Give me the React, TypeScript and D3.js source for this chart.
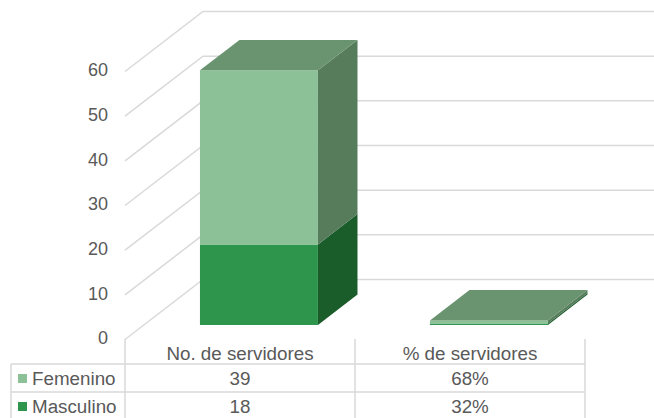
import React, { useEffect, useRef } from 'react';
import * as d3 from 'd3';

const categories = ['No. de servidores', '% de servidores'];
const femenino = [39, 0.68];
const masculino = [18, 0.32];
const femeninoLabels = ['39', '68%'];
const masculinoLabels = ['18', '32%'];
const yTicks = [0, 10, 20, 30, 40, 50, 60];

const width = 654;
const height = 418;

const App = () => {
  const ref = useRef<SVGSVGElement>(null);

  useEffect(() => {
    const svg = d3.select(ref.current);
    svg.selectAll('*').remove();

    const gridColor = '#d9d9d9';
    const textColor = '#595959';
    const font = '"Liberation Sans", Arial, sans-serif';

    const x = d3.scaleBand().domain(categories).range([125, 585]);
    const y = d3.scaleLinear().domain([0, 60]).range([339.5, 71.5]);

    // 3d offset, depth goes from 0 (front) to 1 (back wall)
    const depthX = 78;
    const depthY = -60;
    const px = (xv: number, depth: number) => xv + depthX * depth;
    const py = (yv: number, depth: number) => yv + depthY * depth;
    const line = d3.line();

    // Gridlines on side and back walls
    yTicks.forEach(t => {
      const yy = y(t);
      svg.append('path')
        .attr('d', line([[125, yy], [px(125, 1), py(yy, 1)], [width + 10, py(yy, 1)]]))
        .attr('fill', 'none')
        .attr('stroke', gridColor)
        .attr('stroke-width', 1.5);
    });

    // Y labels
    yTicks.forEach(t => {
      svg.append('text')
        .attr('x', 108)
        .attr('y', y(t) - 1.5)
        .attr('dy', '0.35em')
        .attr('text-anchor', 'end')
        .attr('font-family', font)
        .attr('font-size', 18)
        .attr('fill', textColor)
        .text(t);
    });

    // Stacked 3d columns
    const barWidth = x.bandwidth() * 0.513;
    const front = 0.243;
    const back = 0.75;
    const series = [
      { values: masculino, face: '#2e954c', side: '#1b5c2b', top: '#1f6e36' },
      { values: femenino, face: '#8cc096', side: '#567c5c', top: '#69946f' }
    ];

    categories.forEach((c, i) => {
      const x0 = x(c)! + (x.bandwidth() - barWidth) / 2;
      const x1 = x0 + barWidth;
      let base = 0;
      series.forEach((s, si) => {
        const v0 = y(base);
        const v1 = y(base + s.values[i]);
        const poly = (pts: [number, number][], fill: string) => {
          svg.append('path').attr('d', line(pts) + 'Z').attr('fill', fill);
        };
        // side
        poly([
          [px(x1, front), py(v0, front)],
          [px(x1, back), py(v0, back)],
          [px(x1, back), py(v1, back)],
          [px(x1, front), py(v1, front)]
        ], s.side);
        // face
        poly([
          [px(x0, front), py(v0, front)],
          [px(x1, front), py(v0, front)],
          [px(x1, front), py(v1, front)],
          [px(x0, front), py(v1, front)]
        ], s.face);
        // top, only the last series shows it
        if (si === series.length - 1) {
          poly([
            [px(x0, front), py(v1, front)],
            [px(x1, front), py(v1, front)],
            [px(x1, back), py(v1, back)],
            [px(x0, back), py(v1, back)]
          ], s.top);
        }
        base += s.values[i];
      });
    });

    // Data table
    const rowTop = 339;
    const row1 = 364;
    const row2 = 392;
    const row3 = 420;
    const colLines = [125, x(categories[1])!, 585];
    const hline = (x1: number, x2: number, yy: number) => {
      svg.append('line')
        .attr('x1', x1).attr('x2', x2).attr('y1', yy).attr('y2', yy)
        .attr('stroke', gridColor).attr('stroke-width', 1.5);
    };
    colLines.forEach(xx => {
      svg.append('line')
        .attr('x1', xx).attr('x2', xx).attr('y1', rowTop).attr('y2', height)
        .attr('stroke', gridColor).attr('stroke-width', 1.5);
    });
    svg.append('line')
      .attr('x1', 11).attr('x2', 11).attr('y1', row1).attr('y2', height)
      .attr('stroke', gridColor).attr('stroke-width', 1.5);
    hline(11, 585, row1);
    hline(11, 585, row2);
    hline(11, 585, row3);

    const cellText = (xx: number, yy: number, str: string, anchor = 'middle') => {
      svg.append('text')
        .attr('x', xx)
        .attr('y', yy)
        .attr('text-anchor', anchor)
        .attr('font-family', font)
        .attr('font-size', 18.8)
        .attr('fill', textColor)
        .text(str);
    };

    categories.forEach((c, i) => {
      const cx = x(c)! + x.bandwidth() / 2;
      cellText(cx, 360, c);
      cellText(cx, 385, femeninoLabels[i]);
      cellText(cx, 412.5, masculinoLabels[i]);
    });

    // Legend keys
    svg.append('rect').attr('x', 18).attr('y', 374).attr('width', 9).attr('height', 9).attr('fill', '#8cc096');
    svg.append('rect').attr('x', 18).attr('y', 402).attr('width', 9).attr('height', 9).attr('fill', '#2e954c');
    cellText(32, 385, 'Femenino', 'start');
    cellText(32, 412.5, 'Masculino', 'start');
  }, []);

  return (
    <svg
      ref={ref}
      width={width}
      height={height}
      style={{ position: 'absolute', left: 0, top: 0, background: '#fff' }}
    />
  );
};

export default App;
